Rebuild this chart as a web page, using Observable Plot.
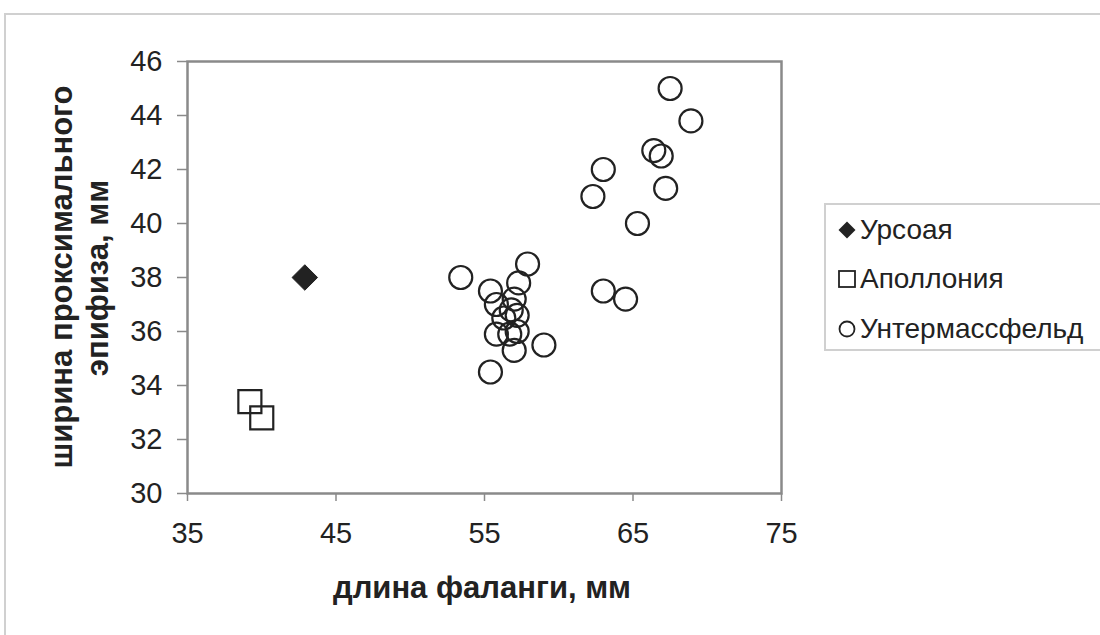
<!DOCTYPE html>
<html>
<head>
<meta charset="utf-8">
<script src="https://cdn.jsdelivr.net/npm/d3@7"></script>
<script src="https://cdn.jsdelivr.net/npm/@observablehq/plot@0.6"></script>
<style>
  html, body { margin: 0; padding: 0; background: #fff; }
  body { width: 1100px; height: 635px; position: relative; overflow: hidden; font-family: "Liberation Sans", Arial, sans-serif; }
  #outer { position: absolute; left: 4px; top: 13px; width: 1200px; height: 700px; border: 2px solid #d0d0d0; box-sizing: border-box; }
  #chart { position: absolute; left: 0; top: 0; }
  #legend { position: absolute; left: 824px; top: 203px; width: 300px; height: 148px; border: 2px solid #d0d0d0; box-sizing: border-box; background: #fff; }
  .item { position: absolute; left: 10px; font-size: 28px; line-height: 32px; color: #222; display: flex; align-items: center; white-space: nowrap; }
  .item svg { margin-right: 2px; }
  .ytitle { position: absolute; font-weight: bold; font-size: 31px; color: #222; white-space: nowrap; transform-origin: center center; }
  #xtitle { position: absolute; font-weight: bold; font-size: 31px; color: #222; white-space: nowrap; }
</style>
</head>
<body>
<div id="outer"></div>
<div id="chart"></div>
<div id="legend"></div>
<div id="xtitle"></div>
<div class="ytitle" id="yt1"></div>
<div class="ytitle" id="yt2"></div>
<script>
// ---- data ----
const seriesNames = ["Урсоая", "Аполлония", "Унтермассфельд"];
const ursoayaX = [42.9];
const ursoayaY = [38.0];
const apolloniaX = [39.2, 40.0];
const apolloniaY = [33.4, 32.8];
const untermassfeldX = [67.5, 68.9, 66.4, 66.9, 63.0, 62.3, 67.2, 65.3, 63.0, 64.5,
  53.4, 57.9, 57.3, 55.4, 55.8, 57.0, 56.8, 56.3, 57.2, 55.8, 56.7, 57.2, 57.0, 59.0, 55.4];
const untermassfeldY = [45.0, 43.8, 42.7, 42.5, 42.0, 41.0, 41.3, 40.0, 37.5, 37.2,
  38.0, 38.5, 37.8, 37.5, 37.0, 37.2, 36.8, 36.5, 36.6, 35.9, 35.9, 36.0, 35.3, 35.5, 34.5];
const xTicks = [35, 45, 55, 65, 75];
const yTicks = [30, 32, 34, 36, 38, 40, 42, 44, 46];
const xTitle = "длина фаланги, мм";
const yTitleLines = ["ширина проксимального", "эпифиза, мм"];

const toRows = (xs, ys) => xs.map((x, i) => ({x, y: ys[i]}));
const ursoaya = toRows(ursoayaX, ursoayaY);
const apollonia = toRows(apolloniaX, apolloniaY);
const untermassfeld = toRows(untermassfeldX, untermassfeldY);

const ink = "#222";
const axisGray = "#8a8a8a";

const chart = Plot.plot({
  width: 1100,
  height: 635,
  marginLeft: 187,
  marginRight: 319,
  marginTop: 61,
  marginBottom: 142,
  style: {fontFamily: "'Liberation Sans', Arial, sans-serif", fontSize: "29px", color: ink, background: "transparent", overflow: "visible"},
  x: {domain: [35, 75]},
  y: {domain: [30, 46]},
  marks: [
    Plot.axisX({ticks: xTicks, tickSize: 8, tickPadding: 21, stroke: axisGray, strokeWidth: 1.5, label: null, fontSize: 29, fill: ink}),
    Plot.axisY({ticks: yTicks, tickSize: 10, tickPadding: 15, stroke: axisGray, strokeWidth: 1.5, label: null, fontSize: 29, fill: ink}),
    Plot.frame({stroke: axisGray, strokeWidth: 2.5}),
    Plot.dot(untermassfeld, {x: "x", y: "y", r: 11.5, symbol: "circle", stroke: ink, strokeWidth: 2.2, fill: "none"}),
    Plot.dot(apollonia, {x: "x", y: "y", r: 13, symbol: "square", stroke: ink, strokeWidth: 2.2, fill: "none"}),
    Plot.dot(ursoaya, {x: "x", y: "y", r: 11.5, symbol: "diamond2", fill: ink, stroke: ink, strokeWidth: 1})
  ]
});
document.getElementById("chart").appendChild(chart);

// Legend
const legend = document.getElementById("legend");
const symSvg = [
  `<svg width="22" height="22" viewBox="-11 -11 22 22"><path d="M0,-8.5L8.5,0L0,8.5L-8.5,0Z" fill="${ink}"/></svg>`,
  `<svg width="22" height="22" viewBox="-11 -11 22 22"><rect x="-8" y="-8" width="16" height="16" fill="none" stroke="${ink}" stroke-width="1.8"/></svg>`,
  `<svg width="22" height="22" viewBox="-11 -11 22 22"><circle r="7.5" fill="none" stroke="${ink}" stroke-width="1.8"/></svg>`
];
const itemCenters = [25, 74, 124];
seriesNames.forEach((name, i) => {
  const d = document.createElement("div");
  d.className = "item";
  d.style.top = (itemCenters[i] - 16) + "px";
  d.innerHTML = symSvg[i] + `<span>${name}</span>`;
  legend.appendChild(d);
});

// Titles
const xt = document.getElementById("xtitle");
xt.textContent = xTitle;
xt.style.left = "0px"; xt.style.top = "0px";
const w = xt.getBoundingClientRect().width;
xt.style.left = (482 - w / 2) + "px";
xt.style.top = (590 - 20) + "px";

const centers = [[62, 277], [98, 278]];
yTitleLines.forEach((t, i) => {
  const el = document.getElementById("yt" + (i + 1));
  el.textContent = t;
  const r = el.getBoundingClientRect();
  el.style.left = (centers[i][0] - r.width / 2) + "px";
  el.style.top = (centers[i][1] - r.height / 2) + "px";
  el.style.transform = "rotate(-90deg)";
});
</script>
</body>
</html>
